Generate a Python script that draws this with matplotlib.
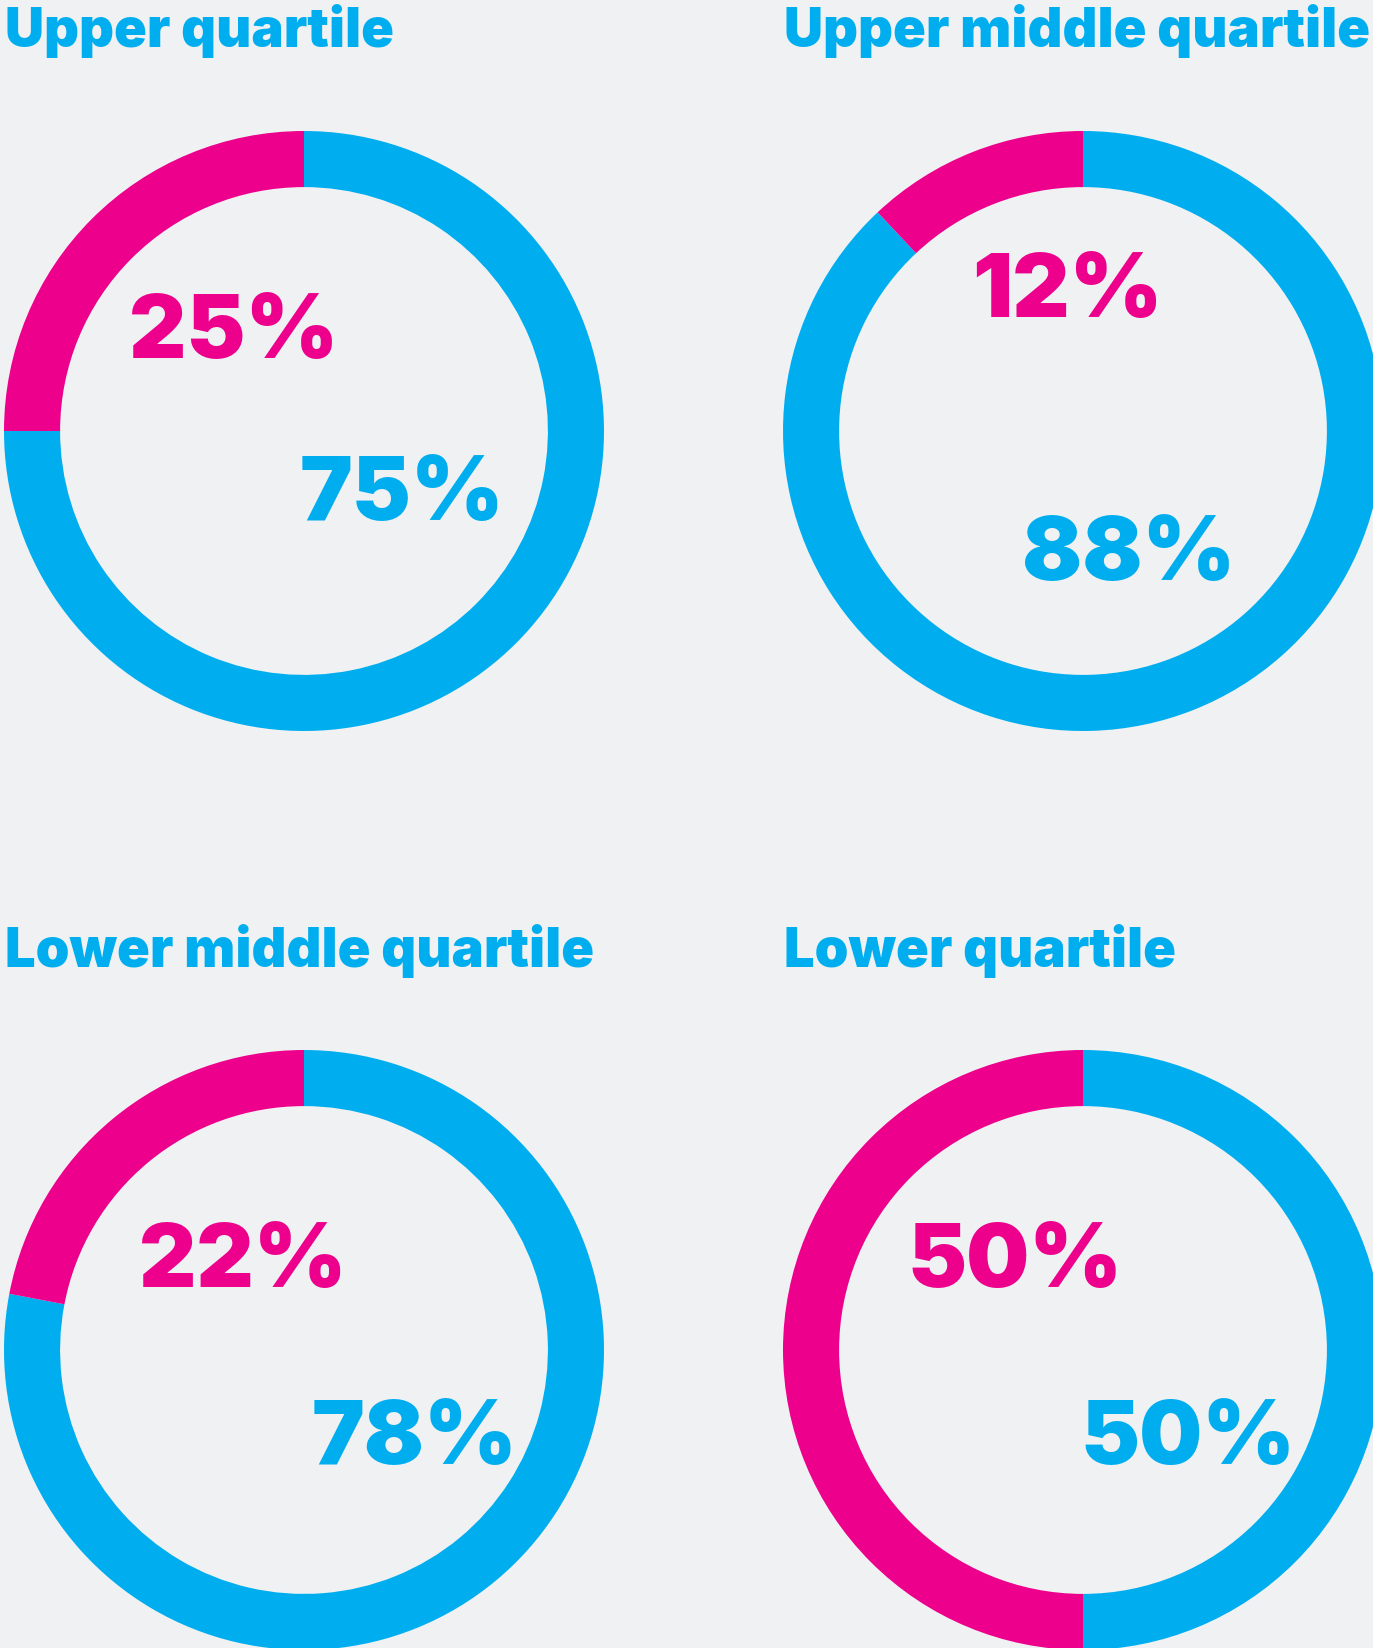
import matplotlib.pyplot as plt

# data
titles = ['Upper quartile', 'Upper middle quartile', 'Lower middle quartile', 'Lower quartile']
women = [25, 12, 22, 50]   # magenta
men = [75, 88, 78, 50]     # blue

BLUE = '#00aeef'
PINK = '#ec008c'
BG = '#f0f1f3'

W, H = 1373, 1649
fig = plt.figure(figsize=(W / 100, H / 100), dpi=100, facecolor=BG)

# donut centres (px, from top) and radius
centres = [(304, 432), (1083, 432), (304, 1351), (1083, 1351)]
R = 300
title_pos = [(5, 47), (784, 47), (5, 967), (784, 967)]
# label offsets in units of the outer radius
pink_off = [(-0.233, 0.247), (-0.053, 0.383), (-0.203, 0.213), (-0.227, 0.213)]
blue_off = [(0.327, -0.293), (0.153, -0.493), (0.37, -0.377), (0.35, -0.377)]

font = 'Inter'

for i in range(4):
    cx, cy = centres[i]
    ax = fig.add_axes([(cx - R) / W, (H - cy - R) / H, 2 * R / W, 2 * R / H])
    ax.set_facecolor(BG)
    ax.pie([men[i], women[i]], colors=[BLUE, PINK], startangle=90, counterclock=False,
           radius=1, wedgeprops=dict(width=0.187, linewidth=0))
    ax.set_xlim(-1, 1)
    ax.set_ylim(-1, 1)
    ax.set_aspect('equal')
    ax.axis('off')
    ax.text(pink_off[i][0], pink_off[i][1], f'{women[i]}%', color=PINK, fontsize=64,
            fontweight='black', family=font, ha='center', va='baseline')
    ax.text(blue_off[i][0], blue_off[i][1], f'{men[i]}%', color=BLUE, fontsize=64,
            fontweight='black', family=font, ha='center', va='baseline')

    tx, ty = title_pos[i]
    fig.text(tx / W, 1 - ty / H, titles[i], color=BLUE, fontsize=39, fontweight='black',
             family=font, ha='left', va='baseline')

fig.savefig('out.png', dpi=100, facecolor=BG)
